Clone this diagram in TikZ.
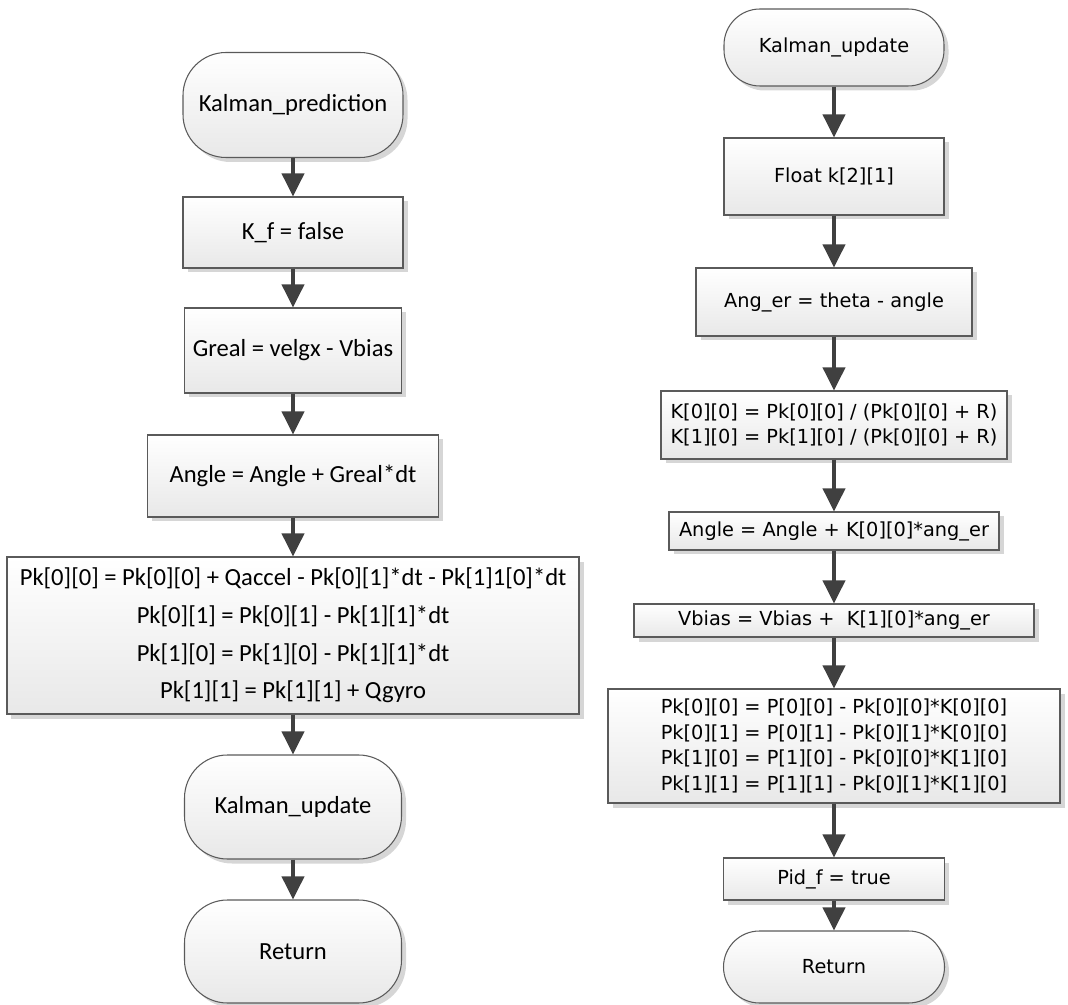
\documentclass[tikz,border=0pt]{standalone}
\usepackage{fontspec}
\setmainfont{Carlito}
\newfontfamily\rightfont{DejaVu Sans}
\usepackage{xcolor}
\usepackage{tikz}
\usetikzlibrary{arrows.meta, positioning, shadows}
\definecolor{edge}{RGB}{90,90,90}
\definecolor{arrowgray}{RGB}{64,64,64}
\definecolor{shade}{RGB}{214,214,214}

\begin{document}
\begin{tikzpicture}[
          every node/.style={inner sep=0pt, align=center},
          base/.style={draw=edge, line width=0.6pt, top color=white, bottom color=black!9,
                       drop shadow={shadow xshift=0.09cm, shadow yshift=-0.09cm, fill=shade, opacity=1}},
          procl/.style={base, font=\fontsize{14}{17}\selectfont},
          terml/.style={procl, rounded corners=0.86cm},
          procr/.style={base, font=\rightfont\fontsize{11}{14.5}\selectfont},
          termr/.style={procr, rounded corners=0.72cm},
          arr/.style={-{Triangle[length=0.46cm, width=0.44cm]}, line width=2.2pt, arrowgray},
        ]
          \useasboundingbox (0,0) rectangle (21.36,-20.1);

          % left flow
          \node[terml, minimum width=4.4cm,  minimum height=2.1cm]  (kpred) at (5.86,-2.1)   {Kalman\_prediction};
          \node[procl, minimum width=4.4cm,  minimum height=1.42cm] (kf)    at (5.86,-4.65)  {K\_f = false};
          \node[procl, minimum width=4.34cm, minimum height=1.7cm]  (greal) at (5.86,-7.01)  {Greal = velgx - Vbias};
          \node[procl, minimum width=5.82cm, minimum height=1.64cm] (angl)  at (5.86,-9.52)  {Angle = Angle + Greal*dt};
          \node[procl, minimum width=11.44cm, minimum height=3.14cm,
                font=\fontsize{14}{21.5}\selectfont]                 (pkl)   at (5.86,-12.71)
            {Pk[0][0] = Pk[0][0] + Qaccel - Pk[0][1]*dt - Pk[1]1[0]*dt\\
             Pk[0][1] = Pk[0][1] - Pk[1][1]*dt\\
             Pk[1][0] = Pk[1][0] - Pk[1][1]*dt\\
             Pk[1][1] = Pk[1][1] + Qgyro};
          \node[terml, minimum width=4.34cm, minimum height=2.08cm] (kupd)  at (5.86,-16.14) {Kalman\_update};
          \node[terml, minimum width=4.34cm, minimum height=2.06cm] (retl)  at (5.86,-19.03) {Return};

          % right flow
          \node[termr, minimum width=4.4cm,  minimum height=1.54cm] (kupdr) at (16.68,-0.95)  {Kalman\_update};
          \node[procr, minimum width=4.4cm,  minimum height=1.54cm] (flt)   at (16.68,-3.53)  {Float k[2][1]};
          \node[procr, minimum width=5.52cm, minimum height=1.36cm] (anger) at (16.68,-6.04)  {Ang\_er = theta - angle};
          \node[procr, minimum width=6.92cm, minimum height=1.36cm] (kgain) at (16.68,-8.5)
            {K[0][0] = Pk[0][0] / (Pk[0][0] + R)\\
             K[1][0] = Pk[1][0] / (Pk[0][0] + R)};
          \node[procr, minimum width=6.6cm,  minimum height=0.76cm] (angr)  at (16.68,-10.62) {Angle = Angle + K[0][0]*ang\_er};
          \node[procr, minimum width=8.0cm,  minimum height=0.66cm] (vbias) at (16.68,-12.41) {Vbias = Vbias +\ \ K[1][0]*ang\_er};
          \node[procr, minimum width=9.04cm, minimum height=2.28cm] (pkr)   at (16.68,-14.92)
            {Pk[0][0] = P[0][0] - Pk[0][0]*K[0][0]\\
             Pk[0][1] = P[0][1] - Pk[0][1]*K[0][0]\\
             Pk[1][0] = P[1][0] - Pk[0][0]*K[1][0]\\
             Pk[1][1] = P[1][1] - Pk[0][1]*K[1][0]};
          \node[procr, minimum width=4.42cm, minimum height=0.84cm] (pid)   at (16.68,-17.58) {Pid\_f = true};
          \node[termr, minimum width=4.42cm, minimum height=1.44cm] (retr)  at (16.68,-19.34) {Return};

          \draw[arr] (kpred)--(kf); \draw[arr] (kf)--(greal);
          \draw[arr] (greal)--(angl); \draw[arr] (angl)--(pkl);
          \draw[arr] (pkl)--(kupd); \draw[arr] (kupd)--(retl);

          \draw[arr] (kupdr)--(flt); \draw[arr] (flt)--(anger);
          \draw[arr] (anger)--(kgain); \draw[arr] (kgain)--(angr);
          \draw[arr] (angr)--(vbias); \draw[arr] (vbias)--(pkr);
          \draw[arr] (pkr)--(pid); \draw[arr] (pid)--(retr);
        \end{tikzpicture}
\end{document}
